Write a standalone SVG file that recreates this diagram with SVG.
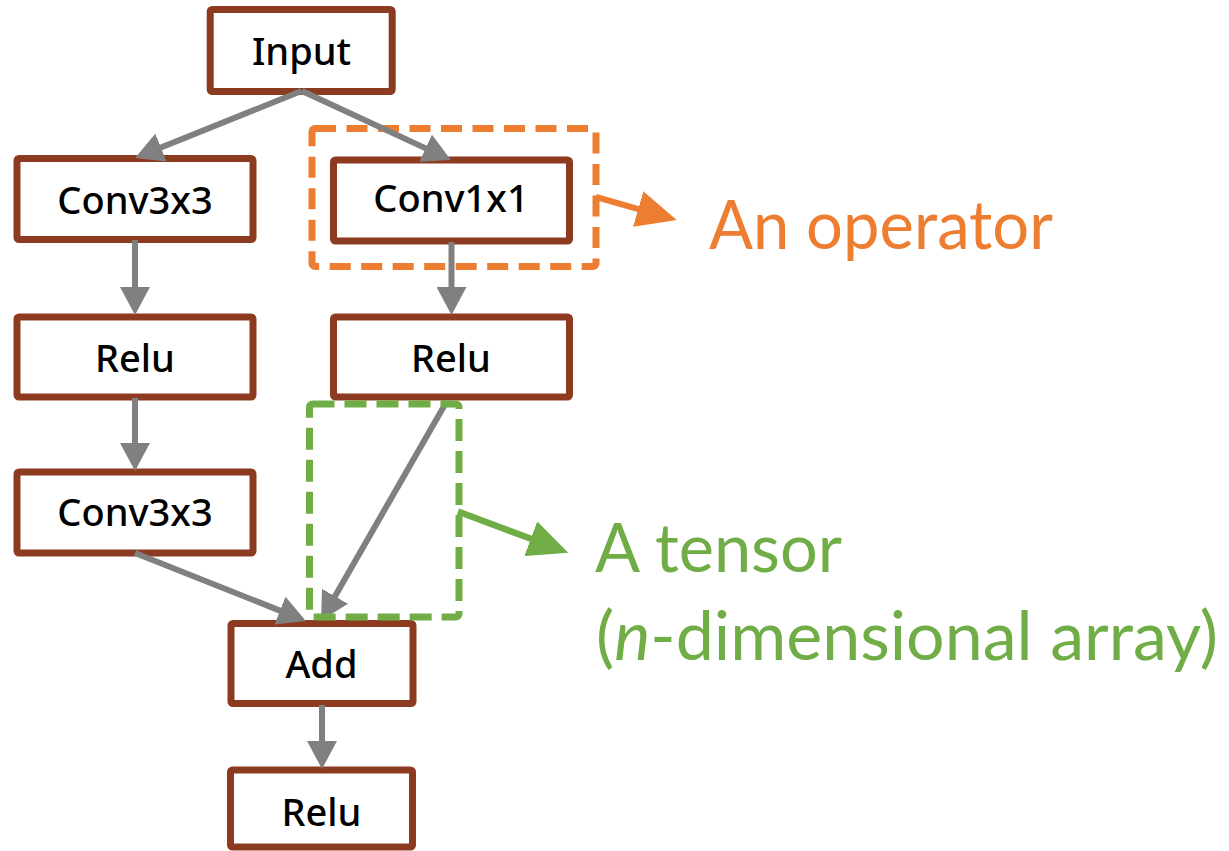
<svg xmlns="http://www.w3.org/2000/svg" width="1229" height="851" viewBox="0 0 1229 851">
  <style>
    .node rect { fill: #ffffff; stroke: #8c3b20; stroke-width: 7; }
    .node text { font-family: "Noto Sans", "Open Sans", sans-serif; font-size: 38px; font-weight: 500; fill: #000000; text-anchor: middle; }
    .edge { stroke: #808080; stroke-width: 6; fill: none; marker-end: url(#head-gray); }
    .callout-op { stroke: #ed7d31; stroke-width: 7; fill: none; stroke-dasharray: 21 10.5; }
    .callout-tensor { stroke: #70ad47; stroke-width: 7; fill: none; stroke-dasharray: 22 10; }
    .pointer-op { stroke: #ed7d31; stroke-width: 6; fill: none; marker-end: url(#head-orange); }
    .pointer-tensor { stroke: #70ad47; stroke-width: 6.5; fill: none; marker-end: url(#head-green); }
    .label { font-family: Lato, "Noto Sans", sans-serif; font-size: 68px; }
  </style>
  <defs>
    <marker id="head-gray" markerUnits="userSpaceOnUse" markerWidth="28" markerHeight="30" viewBox="0 0 28 30" refX="2" refY="15" orient="auto">
      <path d="M0,0 L28,15 L0,30 z" fill="#808080"/>
    </marker>
    <marker id="head-orange" markerUnits="userSpaceOnUse" markerWidth="40" markerHeight="37" viewBox="0 0 40 37" refX="3" refY="18.5" orient="auto">
      <path d="M0,0 L40,18.5 L0,37 z" fill="#ed7d31"/>
    </marker>
    <marker id="head-green" markerUnits="userSpaceOnUse" markerWidth="40" markerHeight="37" viewBox="0 0 40 37" refX="3" refY="18.5" orient="auto">
      <path d="M0,0 L40,18.5 L0,37 z" fill="#70ad47"/>
    </marker>
  </defs>

  <rect width="1229" height="851" fill="#ffffff"/>

  <!-- operator nodes -->
  <g id="node-input" class="node">
    <rect x="210.2" y="9.5" width="182" height="82" rx="2"/>
    <text x="301.5" y="65">Input</text>
  </g>
  <g id="node-conv3x3-a" class="node">
    <rect x="17" y="158.5" width="236" height="81" rx="2"/>
    <text x="135" y="214">Conv3x3</text>
  </g>
  <g id="node-relu-a" class="node">
    <rect x="17" y="317" width="236" height="80" rx="2"/>
    <text x="135" y="371.5">Relu</text>
  </g>
  <g id="node-conv3x3-b" class="node">
    <rect x="17" y="472" width="236" height="81" rx="2"/>
    <text x="135" y="526">Conv3x3</text>
  </g>
  <g id="node-conv1x1" class="node">
    <rect x="333.5" y="160" width="236" height="81" rx="2"/>
    <text x="451" y="211.5">Conv1x1</text>
  </g>
  <g id="node-relu-b" class="node">
    <rect x="333.5" y="317" width="236" height="80" rx="2"/>
    <text x="451" y="371.5">Relu</text>
  </g>
  <g id="node-add" class="node">
    <rect x="231" y="623.5" width="182" height="80" rx="2"/>
    <text x="321.5" y="678">Add</text>
  </g>
  <g id="node-relu-out" class="node">
    <rect x="230.5" y="770" width="182" height="77" rx="2"/>
    <text x="321.5" y="826">Relu</text>
  </g>

  <!-- operator callout frame -->
  <rect class="callout-op" x="312" y="128.5" width="284" height="138" rx="3"/>

  <!-- data-flow edges -->
  <g id="edges">
    <line class="edge" x1="301.5" y1="91" x2="159.1" y2="148.3"/>
    <line class="edge" x1="302" y1="91" x2="427.4" y2="149.1"/>
    <line class="edge" x1="135" y1="240" x2="135" y2="289"/>
    <line class="edge" x1="135" y1="398" x2="135" y2="445"/>
    <line class="edge" x1="451.5" y1="242" x2="451.5" y2="289"/>
    <line class="edge" x1="446.7" y1="401.5" x2="334" y2="598"/>
    <line class="edge" x1="135" y1="553" x2="281.8" y2="611.4"/>
    <line class="edge" x1="322" y1="705" x2="322" y2="743"/>
  </g>

  <!-- tensor callout frame -->
  <rect class="callout-tensor" x="309.5" y="404" width="149.5" height="213" rx="3"/>

  <!-- callout pointers and captions -->
  <g id="callouts">
    <line class="pointer-op" x1="596" y1="197" x2="641.1" y2="209.9"/>
    <line class="pointer-tensor" x1="458" y1="511.5" x2="533.6" y2="539.8"/>
  </g>
  <g id="caption-operator">
    <text class="label" x="709" y="249" fill="#ed7d31" textLength="344" lengthAdjust="spacingAndGlyphs">An operator</text>
  </g>
  <g id="caption-tensor">
    <text class="label" x="595" y="571.5" fill="#70ad47" textLength="247" lengthAdjust="spacingAndGlyphs">A tensor</text>
    <text class="label" x="596" y="660" fill="#70ad47" textLength="622" lengthAdjust="spacingAndGlyphs">(<tspan font-style="italic">n</tspan>-dimensional array)</text>
  </g>
</svg>
